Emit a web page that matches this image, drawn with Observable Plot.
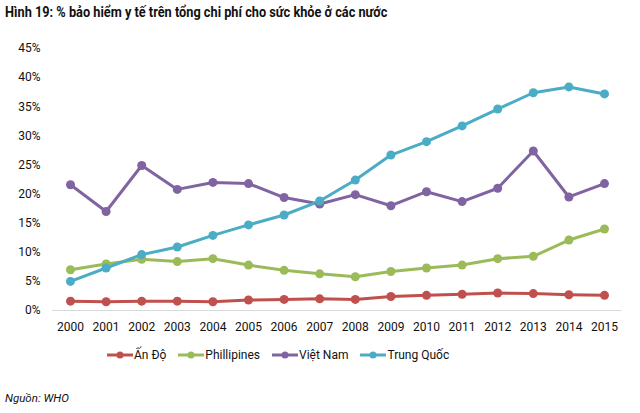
<!DOCTYPE html>
<html><head><meta charset="utf-8">
<script src="https://cdn.jsdelivr.net/npm/d3@7"></script>
<script src="https://cdn.jsdelivr.net/npm/@observablehq/plot@0.6"></script>
<style>
body{margin:0;background:#fff;font-family:Roboto,"Open Sans",sans-serif;color:#111;}
#wrap{position:relative;width:640px;height:413px;overflow:hidden;}
#title{position:absolute;left:5px;top:3px;font-weight:bold;font-size:15px;white-space:nowrap;transform:scaleX(0.85);transform-origin:0 0;}
#chart{position:absolute;left:0;top:30px;}
#legend{position:absolute;left:107px;top:348px;display:flex;gap:12px;font-size:12px;align-items:center;}
#legend .it{display:flex;align-items:center;gap:1px;}
#src{position:absolute;left:5px;top:391px;font-style:italic;font-size:11.5px;}
</style></head>
<body><div id="wrap">
<div id="title">Hình 19: % bảo hiểm y tế trên tổng chi phí cho sức khỏe ở các nước</div>
<div id="chart"></div>
<div id="legend"></div>
<div id="src">Nguồn: WHO</div>
</div>
<script>
const years = [2000,2001,2002,2003,2004,2005,2006,2007,2008,2009,2010,2011,2012,2013,2014,2015];
const seriesNames = ["Ấn Độ","Phillipines","Việt Nam","Trung Quốc"];
const colors = ["#c0504d","#9bbb59","#8064a2","#4bacc6"];
const anDo = [1.6,1.5,1.6,1.6,1.5,1.8,1.9,2.0,1.9,2.4,2.6,2.8,3.0,2.9,2.7,2.6];
const phillipines = [7.0,8.0,8.8,8.4,8.9,7.8,6.9,6.3,5.8,6.7,7.3,7.8,8.9,9.3,12.1,14.0];
const vietNam = [21.6,17.0,24.9,20.8,22.0,21.8,19.4,18.3,19.9,18.0,20.4,18.7,21.0,27.4,19.5,21.8];
const trungQuoc = [5.0,7.3,9.6,10.9,12.9,14.7,16.4,18.8,22.4,26.7,29.0,31.7,34.6,37.4,38.4,37.2];
const yTicks = [0,5,10,15,20,25,30,35,40,45];

const all = [anDo,phillipines,vietNam,trungQuoc];
const data = [];
all.forEach((arr,i)=>arr.forEach((v,j)=>data.push({year:years[j],value:v,series:seriesNames[i]})));

const plot = Plot.plot({
  width:640, height:310,
  marginLeft:70, marginRight:36, marginTop:18, marginBottom:30,
  style:{fontFamily:"Roboto, 'Open Sans', sans-serif", fontSize:"12px", color:"#111", background:"transparent"},
  x:{type:"linear", domain:[2000,2015], axis:null},
  y:{domain:[0,45], axis:null},
  color:{domain:seriesNames, range:colors},
  marks:[
    Plot.ruleY([0],{x1:1999.5,x2:2015.5,stroke:"#d9d9d9",strokeWidth:1}),
    Plot.axisY(yTicks,{tickSize:0, tickPadding:30, tickFormat:d=>d+"%", fontSize:12, label:null}),
    Plot.axisX(years,{tickSize:0, tickPadding:12, tickFormat:d=>String(d), fontSize:12, label:null}),
    Plot.line(data,{x:"year",y:"value",z:"series",stroke:"series",strokeWidth:3}),
    Plot.dot(data,{x:"year",y:"value",fill:"series",r:4.5})
  ]
});
document.getElementById("chart").appendChild(plot);

const leg = document.getElementById("legend");
seriesNames.forEach((n,i)=>{
  const it=document.createElement("div"); it.className="it";
  it.innerHTML=`<svg width="26" height="10"><line x1="0" x2="26" y1="5" y2="5" stroke="${colors[i]}" stroke-width="3"/><circle cx="13" cy="5" r="3.5" fill="${colors[i]}"/></svg><span>${n}</span>`;
  leg.appendChild(it);
});
</script>
</body></html>
